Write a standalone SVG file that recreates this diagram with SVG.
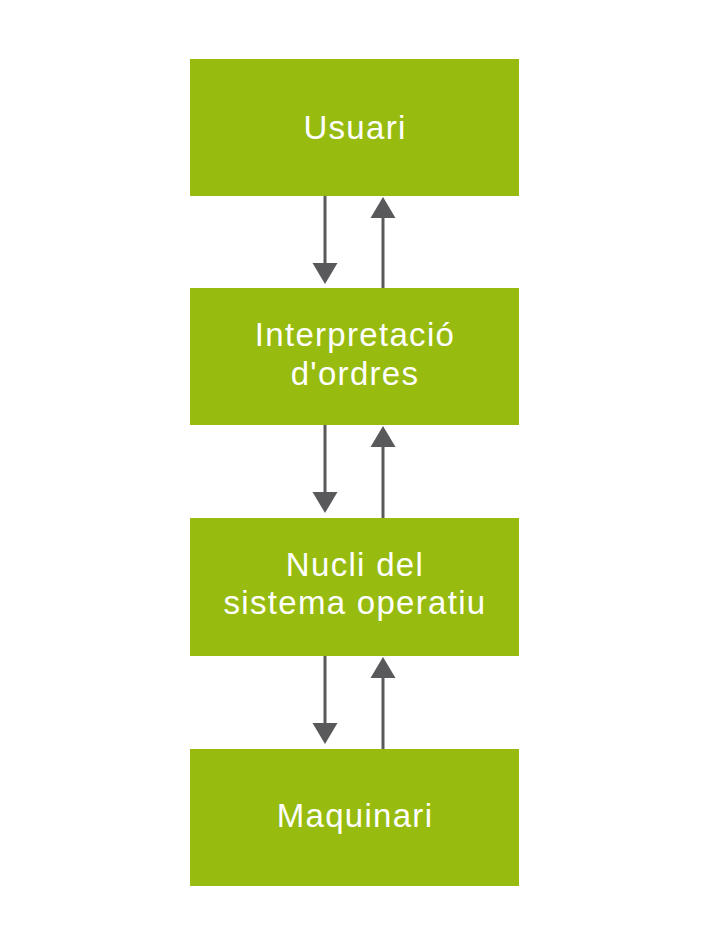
<svg xmlns="http://www.w3.org/2000/svg" width="709" height="945" viewBox="0 0 709 945">
<style>
.box{fill:#97bc0f}
.lbl{font-family:"Liberation Sans",Arial,sans-serif;font-size:33px;letter-spacing:1.3px;fill:#ffffff;text-anchor:middle}
.ln{stroke:#59595b;stroke-width:3;fill:none}
.hd{fill:#59595b}
</style>
<rect width="709" height="945" fill="#ffffff"/>
<g id="usuari"><rect class="box" x="190" y="59" width="329" height="137"/><text class="lbl" x="355" y="139">Usuari</text></g>
<g id="interpretacio"><rect class="box" x="190" y="288" width="329" height="137"/><text class="lbl" x="355" y="346">Interpretació</text><text class="lbl" x="355" y="385">d'ordres</text></g>
<g id="nucli"><rect class="box" x="190" y="518" width="329" height="138"/><text class="lbl" x="355" y="576">Nucli del</text><text class="lbl" x="355" y="614">sistema operatiu</text></g>
<g id="maquinari"><rect class="box" x="190" y="749" width="329" height="137"/><text class="lbl" x="355" y="827">Maquinari</text></g>
<g id="connectors">
<line class="ln" x1="325" y1="196" x2="325" y2="265"/><polygon class="hd" points="312.5,263 337.5,263 325,284"/>
<line class="ln" x1="383" y1="288" x2="383" y2="215"/><polygon class="hd" points="370.5,218 395.5,218 383,197"/>
<line class="ln" x1="325" y1="425" x2="325" y2="494"/><polygon class="hd" points="312.5,492 337.5,492 325,513"/>
<line class="ln" x1="383" y1="518" x2="383" y2="444"/><polygon class="hd" points="370.5,447 395.5,447 383,426"/>
<line class="ln" x1="325" y1="656" x2="325" y2="725"/><polygon class="hd" points="312.5,723 337.5,723 325,744"/>
<line class="ln" x1="383" y1="749" x2="383" y2="675"/><polygon class="hd" points="370.5,678 395.5,678 383,657"/>
</g>
</svg>
